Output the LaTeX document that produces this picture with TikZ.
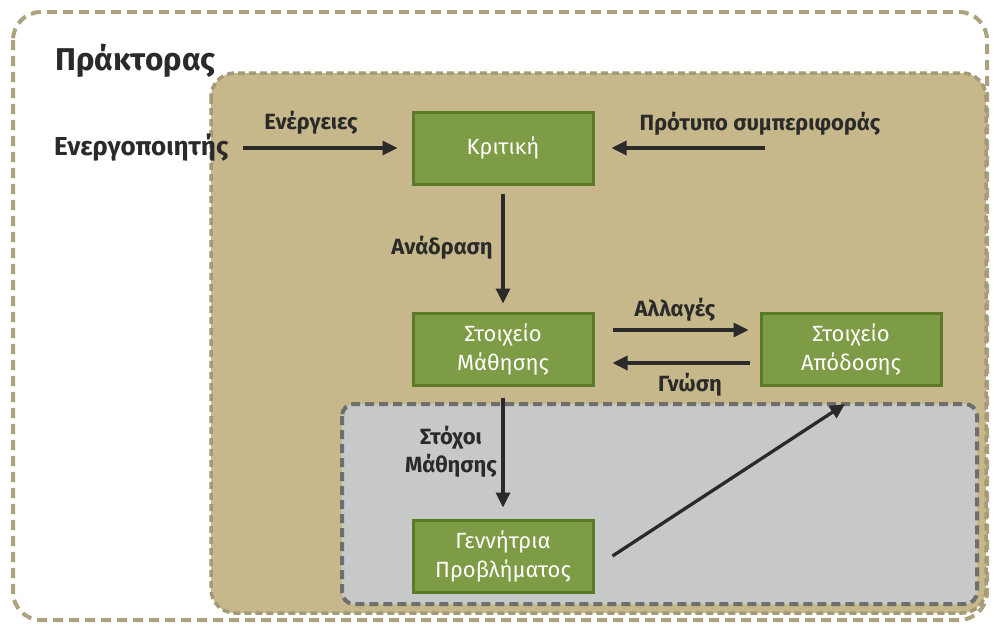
\documentclass[tikz,border=0pt]{standalone}
\usepackage{fontspec}
\setmainfont{Fira Sans}
\usetikzlibrary{arrows.meta}
\definecolor{outerline}{HTML}{ACA27D}
\definecolor{tanfill}{HTML}{C6B88A}
\definecolor{tanline}{HTML}{A49A78}
\definecolor{greyfill}{HTML}{C7C8C8}
\definecolor{greyline}{HTML}{6E6E6E}
\definecolor{greenfill}{HTML}{7E9B45}
\definecolor{greenline}{HTML}{5A7A28}
\definecolor{ink}{HTML}{2A2A2A}
\tikzset{
  box/.style={draw=greenline, line width=3pt, fill=greenfill, text=white,
    minimum width=180pt, minimum height=72pt, align=center, inner sep=0pt,
    font=\fontsize{22}{29}\selectfont},
  lbl/.style={text=ink, font=\bfseries\fontsize{22}{28}\selectfont, align=center, inner sep=0pt},
  flow/.style={draw=ink, line width=3.3pt, -{Triangle[length=15pt,width=14pt]}},
}
\begin{document}
\begin{tikzpicture}[x=1pt,y=-1pt]
\useasboundingbox (0,0) rectangle (994,627);
% agent frame
\draw[outerline, line width=4pt, dash pattern=on 10pt off 6pt, rounded corners=28pt, fill=white]
  (13,12) rectangle (987,620);
% inner tan region
\draw[tanline, line width=3.5pt, dash pattern=on 7pt off 4pt, rounded corners=24pt, fill=tanfill]
  (211,73) rectangle (986,613);
% grey region
\draw[greyline, line width=4pt, dash pattern=on 9pt off 5pt, rounded corners=12pt, fill=greyfill]
  (342,404) rectangle (977,604);
% title
\node[text=ink, font=\bfseries\fontsize{31.5}{38}\selectfont, anchor=west, inner sep=0pt] (title) at (55,61) {Πράκτορας};
% boxes
\node[box] (crit) at (503,148) {Κριτική};
\node[box] (learn) at (503,349) {Στοιχείο\\Μάθησης};
\node[box] (perf) at (851,349) {Στοιχείο\\Απόδοσης};
\node[box] (gen) at (503,556) {Γεννήτρια\\Προβλήματος};
% labels
\node[lbl, anchor=west, font=\bfseries\fontsize{26}{31}\selectfont] (sens) at (54,148) {Ενεργοποιητής};
\node[lbl] (act) at (311,123) {Ενέργειες};
\node[lbl] (std) at (760,124) {Πρότυπο συμπεριφοράς};
\node[lbl] (fb) at (442,248) {Ανάδραση};
\node[lbl] (chg) at (675,310) {Αλλαγές};
\node[lbl] (know) at (690,385) {Γνώση};
\node[lbl] (goals) at (451,452) {Στόχοι\\Μάθησης};
\coordinate (sensstart) at (243,148);
\coordinate (stdend) at (765,148);
\coordinate (diagend) at (845,404);
% connectors
\draw[flow] (sensstart) -- ([xshift=-14pt]crit.west);
\draw[flow] (stdend) -- ([xshift=17pt]crit.east);
\draw[flow] ([yshift=-8pt]crit.south) -- ([yshift=8pt]learn.north);
\draw[flow] ([xshift=18pt,yshift=19pt]learn.east) -- ([xshift=-11pt,yshift=19pt]perf.west);
\draw[flow] ([xshift=-10pt,yshift=-14pt]perf.west) -- ([xshift=18pt,yshift=-14pt]learn.east);
\draw[flow] ([yshift=-11pt]learn.south) -- ([yshift=11pt]gen.north);
\draw[flow] ([xshift=18pt]gen.east) -- (diagend);
\end{tikzpicture}
\end{document}
